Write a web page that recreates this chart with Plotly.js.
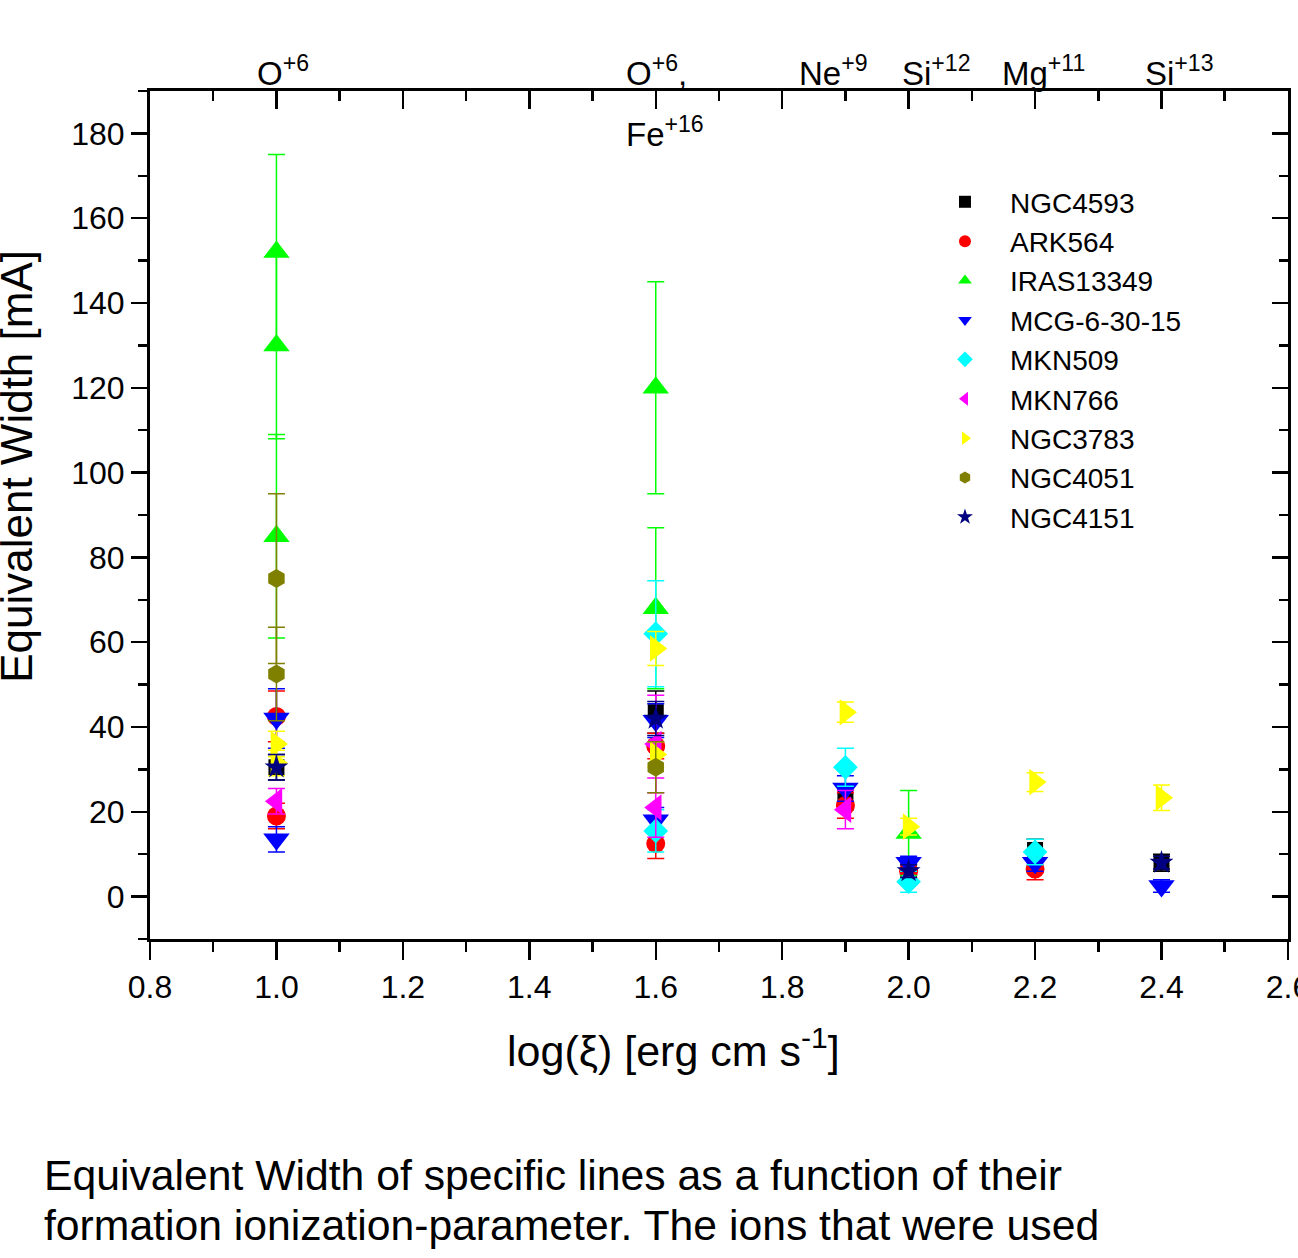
<!DOCTYPE html>
<html><head><meta charset="utf-8">
<script src="https://cdn.plot.ly/plotly-3.0.1.min.js"></script>
<style>html,body{margin:0;padding:0;background:#fff}#chart{width:1298px;height:1258px}</style>
</head><body><div id="chart"></div>
<script>
// ---- data ----
const ngc4593X = [1.0, 1.6, 1.9, 2.0, 2.2, 2.4];
const ngc4593Y = [30.5, 43.5, 23.5, 6.5, 11, 8];
const ngc4593E = [3, 5, 3, 1.5, 2.5, 2];

const ark564X = [1.0, 1.0, 1.6, 1.6, 1.9, 2.0, 2.2];
const ark564Y = [42.5, 19, 35.5, 12.5, 21.5, 6, 6.5];
const ark564E = [6, 3, 3, 3.5, 3, 1.5, 2.5];

const iras13349X = [1.0, 1.0, 1.0, 1.6, 1.6, 2.0];
const iras13349Y = [152, 130, 85, 120, 68, 15];
const iras13349E = [23, 22, 24, 25, 19, 10];

const mcg63015X = [1.0, 1.0, 1.6, 1.6, 1.9, 2.0, 2.2, 2.4];
const mcg63015Y = [42, 13.5, 41.5, 18, 25.5, 8, 8, 2.5];
const mcg63015E = [7, 3, 4, 3, 3, 1.5, 2, 1.5];

const mkn509X = [1.6, 1.6, 1.9, 2.0, 2.2];
const mkn509Y = [62, 15.5, 30.5, 3.5, 10.5];
const mkn509E = [12.5, 5, 4.5, 2.5, 3];

const mkn766X = [1.0, 1.6, 1.6, 1.9];
const mkn766Y = [22.5, 36, 21, 20.5];
const mkn766E = [3, 11.5, 7, 4.5];

const ngc3783X = [1.0, 1.0, 1.6, 1.6, 1.9, 2.0, 2.2, 2.4];
const ngc3783Y = [36, 31.5, 58.5, 33.5, 43.5, 16.5, 27, 23.3];
const ngc3783E = [3, 3, 4, 3, 2.4, 2, 2.2, 3];

const ngc4051X = [1.0, 1.0, 1.6];
const ngc4051Y = [75, 52.5, 30.5];
const ngc4051E = [20, 11, 6];

const ngc4151X = [1.0, 1.6, 2.0, 2.4];
const ngc4151Y = [30.5, 42, 6, 8];
const ngc4151E = [3, 4, 1.5, 1.5];

const seriesNames = ['NGC4593','ARK564','IRAS13349','MCG-6-30-15','MKN509','MKN766','NGC3783','NGC4051','NGC4151'];

const ionX = [1.0, 1.6, 1.9, 2.0, 2.2, 2.4];
const ionLabels = ['O<sup>+6</sup>', 'O<sup>+6</sup>,', 'Ne<sup>+9</sup>', 'Si<sup>+12</sup>', 'Mg<sup>+11</sup>', 'Si<sup>+13</sup>'];
const ionLabels2 = ['', 'Fe<sup>+16</sup>', '', '', '', ''];

const xTitle = 'log(ξ) [erg cm s<sup>-1</sup>]';
const yTitle = 'Equivalent Width [mA]';
const captionLines = ['Equivalent Width of specific lines as a function of their',
                      'formation ionization-parameter. The ions that were used'];

// ---- styles ----
const FONT = '"Liberation Sans", Arial, Helvetica, sans-serif';
const styles = [
  {color:'#000000', symbol:'square', size:16},
  {color:'#ff0000', symbol:'circle', size:19},
  {color:'#00ff00', symbol:'triangle-up', size:23},
  {color:'#0000ff', symbol:'triangle-down', size:23},
  {color:'#00ffff', symbol:'diamond', size:19},
  {color:'#ff00ff', symbol:'triangle-left', size:23},
  {color:'#ffff00', symbol:'triangle-right', size:23},
  {color:'#808000', symbol:'hexagon', size:19},
  {color:'#000080', symbol:'star', size:18}
];
const seriesData = [
  [ngc4593X, ngc4593Y, ngc4593E],
  [ark564X, ark564Y, ark564E],
  [iras13349X, iras13349Y, iras13349E],
  [mcg63015X, mcg63015Y, mcg63015E],
  [mkn509X, mkn509Y, mkn509E],
  [mkn766X, mkn766Y, mkn766E],
  [ngc3783X, ngc3783Y, ngc3783E],
  [ngc4051X, ngc4051Y, ngc4051E],
  [ngc4151X, ngc4151Y, ngc4151E]
];

const traces = seriesData.map((d, i) => ({
  type: 'scatter', mode: 'markers', name: seriesNames[i],
  x: d[0], y: d[1],
  error_y: {type:'data', array: d[2], visible:true, color: styles[i].color, thickness:1.5, width:8.5},
  marker: {color: styles[i].color, symbol: styles[i].symbol, size: styles[i].size, line:{width:0}}
}));
// empty helper trace so the mirrored top/right axes (ticks inside) get drawn
traces.push({type:'scatter', mode:'markers', x:[], y:[], xaxis:'x2', yaxis:'y2', showlegend:false, hoverinfo:'skip'});

const ionShift = [-21, -32, -48, -9, -35, -19];
const annotations = [];
ionX.forEach((x, i) => {
  annotations.push({xref:'x', yref:'paper', x:x, y:1.0236, xshift: ionShift[i], xanchor:'left', yanchor:'middle',
    text: ionLabels[i], showarrow:false, font:{family:FONT, size:33, color:'#000'}});
  if (ionLabels2[i]) {
    annotations.push({xref:'x', yref:'paper', x:x, y:0.9517, xshift: ionShift[i], xanchor:'left', yanchor:'middle',
      text: ionLabels2[i], showarrow:false, font:{family:FONT, size:33, color:'#000'}});
  }
});
annotations.push({xref:'paper', yref:'paper', x:0.4596, y:-0.1285, xanchor:'center', yanchor:'middle',
  text: xTitle, showarrow:false, font:{family:FONT, size:43, color:'#000'}});
annotations.push({xref:'paper', yref:'paper', x:-0.117, y:0.5578, xanchor:'center', yanchor:'middle', textangle:-90,
  text: yTitle, showarrow:false, font:{family:FONT, size:44, color:'#000'}});
captionLines.forEach((t, i) => {
  annotations.push({xref:'paper', yref:'paper', x:-0.0950, y: i === 0 ? -0.2783 : -0.3373, xanchor:'left', yanchor:'middle',
    text: t, showarrow:false, font:{family:FONT, size:42.7, color:'#000'}});
});

const xr = [0.8, 2.6001], yr = [-10, 190];
const layout = {
  width:1298, height:1258,
  margin:{l:150, r:10, t:91, b:319},
  paper_bgcolor:'#fff', plot_bgcolor:'#fff',
  font:{family:FONT, size:30, color:'#000'},
  showlegend:true,
  legend:{x:0.6766, y:0.8985, xanchor:'left', yanchor:'top', bgcolor:'rgba(0,0,0,0)', borderwidth:0,
    font:{family:FONT, size:28, color:'#000'}, itemsizing:'constant', itemwidth:80},
  xaxis:{range:xr, tick0:0.8, dtick:0.2, tickformat:'.1f', ticks:'outside', ticklen:18, tickwidth:2.5, tickcolor:'#000',
    showline:true, linewidth:3, linecolor:'#000', showgrid:false, zeroline:false, ticklabeloverflow:'allow',
    minor:{ticks:'outside', ticklen:10, tickwidth:2.5, dtick:0.1, tick0:0.8, tickcolor:'#000', showgrid:false},
    tickfont:{size:32}},
  xaxis2:{range:xr, overlaying:'x', side:'top', anchor:'y2', tick0:0.8, dtick:0.2, ticks:'inside', ticklen:18, tickwidth:2.5,
    tickcolor:'#000', showticklabels:false, showline:true, linewidth:3, linecolor:'#000', showgrid:false, zeroline:false,
    minor:{ticks:'inside', ticklen:10, tickwidth:2.5, dtick:0.1, tick0:0.8, tickcolor:'#000', showgrid:false}},
  yaxis:{range:yr, tick0:0, dtick:20, ticks:'outside', ticklen:16, tickwidth:2.5, tickcolor:'#000',
    showline:true, linewidth:3, linecolor:'#000', showgrid:false, zeroline:false,
    minor:{ticks:'outside', ticklen:9, tickwidth:2.5, dtick:10, tick0:0, tickcolor:'#000', showgrid:false},
    tickfont:{size:32}},
  yaxis2:{range:yr, overlaying:'y', side:'right', anchor:'x2', tick0:0, dtick:20, ticks:'inside', ticklen:16, tickwidth:2.5,
    tickcolor:'#000', showticklabels:false, showline:true, linewidth:3, linecolor:'#000', showgrid:false, zeroline:false,
    minor:{ticks:'inside', ticklen:9, tickwidth:2.5, dtick:10, tick0:0, tickcolor:'#000', showgrid:false}},
  annotations: annotations
};

Plotly.newPlot('chart', traces, layout, {displayModeBar:false, staticPlot:true});
</script>
</body></html>
